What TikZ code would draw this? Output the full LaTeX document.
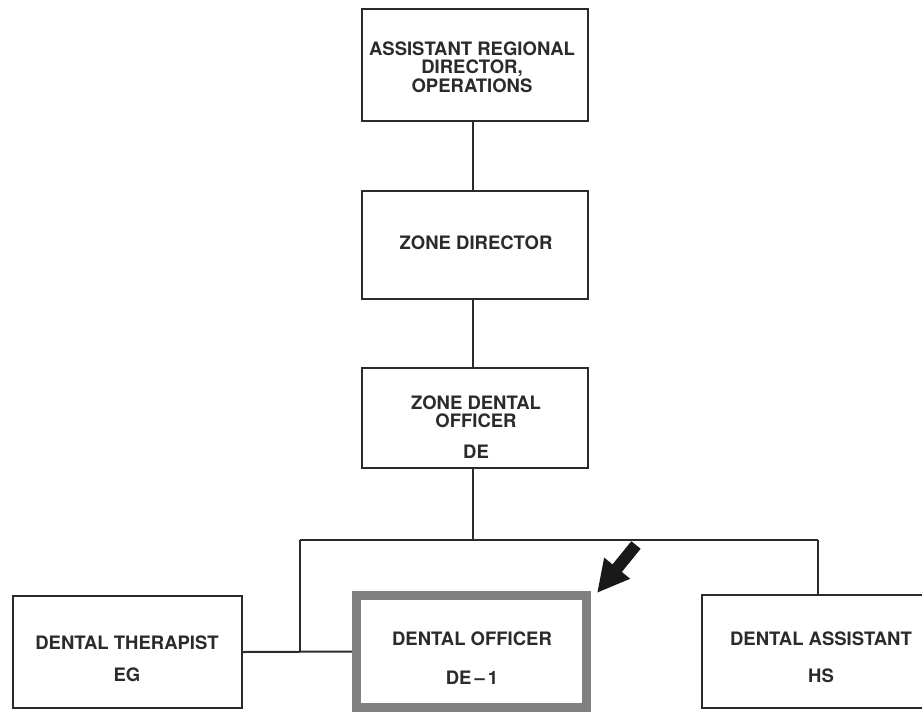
\documentclass[tikz,border=0pt]{standalone}
\usepackage{fontspec}
\setmainfont{TeX Gyre Heros}
\usetikzlibrary{arrows.meta}
\definecolor{ink}{HTML}{2B2B2B}
\begin{document}
\begin{tikzpicture}[x=1pt,y=-1pt,
  box/.style={draw=ink, line width=2.4pt, fill=white, inner sep=0pt},
  hibox/.style={draw=black!50, line width=9pt, fill=white, inner sep=0pt},
  lbl/.style={font=\bfseries\fontsize{18.5}{18.5}\selectfont, text=ink, align=center, inner sep=0pt},
  link/.style={draw=ink, line width=2pt},
  pointer/.style={draw=black!90, line width=12pt, -{Triangle[width=31pt,length=32pt]}}]
\useasboundingbox[fill=white] (0,0) rectangle (922,713);
\clip (0,0) rectangle (922,713);

% boxes
\node[box, minimum width=226pt, minimum height=112pt] (ard) at (475,65) {};
\node[box, minimum width=226pt, minimum height=108pt] (zd)  at (475,245) {};
\node[box, minimum width=226pt, minimum height=100pt] (zdo) at (475,418) {};
\node[box, minimum width=229pt, minimum height=112pt] (th)  at (127.5,652) {};
\node[hibox, minimum width=230pt, minimum height=112pt] (do) at (471.5,651.5) {};
\node[box, minimum width=238pt, minimum height=113pt] (da)  at (821,651.5) {};

% texts
\node[lbl] (ardT) at (472,67) {ASSISTANT REGIONAL\\DIRECTOR,\\OPERATIONS};
\node[lbl] (zdT)  at (476,243) {ZONE DIRECTOR};
\node[lbl] (zdoT) at (476,427) {ZONE DENTAL\\OFFICER\\[12.5pt]DE};
\node[lbl] (thT)  at (127,659) {DENTAL THERAPIST\\[13.5pt]EG};
\node[lbl] (doT)  at (472,658.5) {DENTAL OFFICER\\[20.5pt]DE\,–\,1};
\node[lbl] (daT)  at (821,657.5) {DENTAL ASSISTANT\\[18.5pt]HS};

% connectors
\coordinate (busL) at (300,540);
\coordinate (busM) at (473,540);
\coordinate (busR) at (818,540);
\draw[link] (ard.south -| 473,0) -- (zd.north -| 473,0);
\draw[link] (zd.south -| 473,0) -- (zdo.north -| 473,0);
\draw[link] (zdo.south -| busM) -- (busM);
\draw[link] (busL) -- (busR);
\draw[link] (busR) -- (busR |- da.north);
\draw[link] (busL) -- (busL |- th.east);
\draw[link] (th.east) -- (do.west);

% pointer arrow
\coordinate (atail) at (636,545);
\coordinate (atip) at (597,593);
\draw[pointer] (atail) -- (atip);
\end{tikzpicture}
\end{document}
